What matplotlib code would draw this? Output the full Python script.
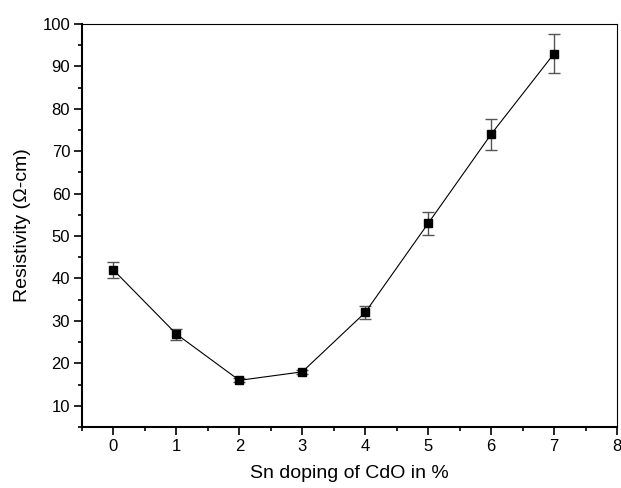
import matplotlib
matplotlib.use("Agg")
import matplotlib.pyplot as plt
from matplotlib.ticker import MultipleLocator

plt.rcParams['font.family'] = ['Liberation Sans', 'DejaVu Sans']

doping = [0, 1, 2, 3, 4, 5, 6, 7]
resistivity = [42, 26.9, 16, 18, 32, 53, 74, 93]
errors = [2.0, 1.3, 0.5, 0.5, 1.5, 2.7, 3.7, 4.6]

fig = plt.figure(figsize=(6.21, 4.88), dpi=100)
ax = fig.add_axes([0.132, 0.125, 0.8616, 0.826])

ax.errorbar(doping, resistivity, yerr=errors, fmt='none', ecolor='#555555',
            elinewidth=1.0, capsize=4, capthick=1.0, zorder=2)
ax.plot(doping, resistivity, color='black', linewidth=0.8, marker='s',
        markersize=6, markerfacecolor='black', markeredgecolor='black', zorder=3)

ax.set_xlim(-0.5, 8)
ax.set_ylim(5, 100)
ax.xaxis.set_major_locator(MultipleLocator(1))
ax.xaxis.set_minor_locator(MultipleLocator(0.5))
ax.yaxis.set_minor_locator(MultipleLocator(5))
ax.set_yticks(range(10, 101, 10))
ax.tick_params(which='both', direction='out', top=False, right=False, labelsize=12)
ax.tick_params(which='major', length=5.5, width=1.2, pad=3)
ax.tick_params(which='minor', length=3, width=1.2)
for side in ['left', 'bottom']:
    ax.spines[side].set_linewidth(1.5)
for side in ['top', 'right']:
    ax.spines[side].set_linewidth(0.8)

ax.set_xlabel('Sn doping of CdO in %', fontsize=14, labelpad=8)
ax.set_ylabel('Resistivity (Ω-cm)', fontsize=14, labelpad=8)

fig.savefig('out.png', dpi=100)
